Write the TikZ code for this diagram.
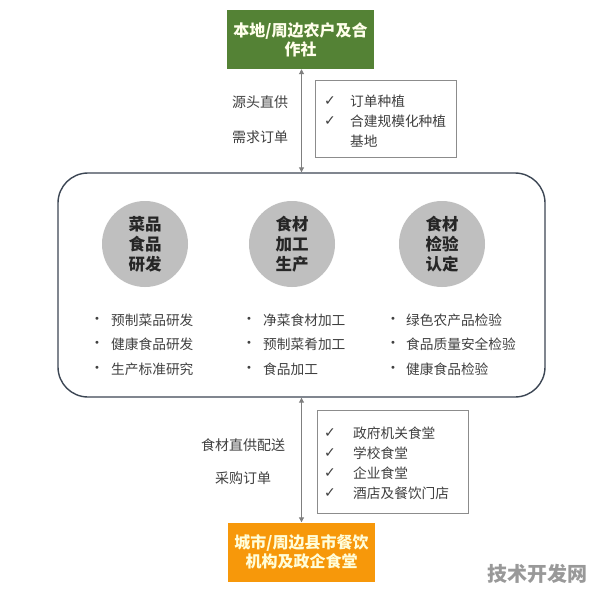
\documentclass[tikz,border=0pt]{standalone}
\usepackage{fontspec}
\setmainfont{Noto Sans CJK SC}
\newfontfamily\symf{DejaVu Sans}
\usetikzlibrary{arrows.meta}
\definecolor{mygreen}{HTML}{548235}
\definecolor{myorange}{HTML}{F7980A}
\definecolor{txt}{HTML}{404040}
\definecolor{circ}{HTML}{BFBFBF}
\definecolor{frame}{HTML}{3C4654}
\definecolor{arr}{HTML}{7F7F7F}
\begin{document}
\begin{tikzpicture}[x=1pt,y=-1pt,
  endbox/.style={minimum width=147pt,minimum height=59pt,inner sep=0pt,align=center,font=\fontsize{16}{19}\selectfont\bfseries},
  lab/.style={text=txt,font=\fontsize{14}{16}\selectfont,inner sep=0pt},
  item/.style={text=txt,font=\fontsize{13.7}{16}\selectfont,inner sep=0pt,anchor=west},
  chk/.style={text=txt,font=\symf\fontsize{14}{16}\selectfont,inner sep=0pt},
  bul/.style={text=txt,font=\symf\fontsize{10}{12}\selectfont,inner sep=0pt},
  listbox/.style={draw=black!45,line width=0.8pt,inner sep=0pt},
  circnode/.style={circle,fill=circ,minimum size=86pt,inner sep=0pt,align=center,text=black!85,font=\fontsize{16.5}{20}\selectfont\bfseries},
  conn/.style={draw=arr,line width=1pt,{Triangle[length=5pt,width=5pt]}-{Triangle[length=5pt,width=5pt]}}
]
\useasboundingbox (0,0) rectangle (596,591);
\fill[white] (0,0) rectangle (596,591);

% end boxes
\node[endbox,fill=mygreen,text=white!92!yellow] (top) at (300.5,39.5) {本地/周边农户及合\\作社};
\node[endbox,fill=myorange,text=white!85!yellow] (bot) at (301.5,552) {城市/周边县市餐饮\\机构及政企食堂};

% main frame
\node[draw=frame,line width=1.4pt,rounded corners=30pt,minimum width=487pt,minimum height=224pt,inner sep=0pt] (main) at (301.5,285) {};

% connectors
\draw[conn] (main.north |- top.south) -- (main.north);
\draw[conn] (main.south) -- (main.south |- bot.north);

% upper labels
\node[lab] (l1) at (260,102) {源头直供};
\node[lab] (l2) at (260,137) {需求订单};
\node[listbox,minimum width=141pt,minimum height=77pt] (b1) at (385.5,118.5) {};
\node[chk] (c11) at (330,101) {✓};
\node[item] (t11) at (350,101) {订单种植};
\node[chk] (c12) at (330,121) {✓};
\node[item] (t12) at (350,121) {合建规模化种植};
\node[item] (t13) at (350,141) {基地};

% circles
\node[circnode] (k1) at (145,244) {菜品\\食品\\研发};
\node[circnode] (k2) at (292,244) {食材\\加工\\生产};
\node[circnode] (k3) at (442,244) {食材\\检验\\认定};

% bullet lists
\foreach \y/\a/\b/\c [count=\i] in {320/预制菜品研发/净菜食材加工/绿色农产品检验,344/健康食品研发/预制菜肴加工/食品质量安全检验,369/生产标准研究/食品加工/健康食品检验}{
  \node[bul] (pa\i) at (97,\y) {•};
  \node[item] (qa\i) at (111,\y) {\a};
  \node[bul] (pb\i) at (249,\y) {•};
  \node[item] (qb\i) at (263,\y) {\b};
  \node[bul] (pc\i) at (393,\y) {•};
  \node[item] (qc\i) at (406,\y) {\c};
}

% lower labels
\node[lab] (l3) at (243,445) {食材直供配送};
\node[lab] (l4) at (243,478) {采购订单};
\node[listbox,minimum width=151pt,minimum height=103pt] (b2) at (392.5,461.5) {};
\foreach \y/\t [count=\i] in {433/政府机关食堂,453/学校食堂,473/企业食堂,493/酒店及餐饮门店}{
  \node[chk] (c2\i) at (330,\y) {✓};
  \node[item] (t2\i) at (353,\y) {\t};
}

% watermark
\node[text=black!40,font=\fontsize{20}{22}\selectfont\bfseries,inner sep=0pt] (wm) at (537,574) {技术开发网};
\end{tikzpicture}
\end{document}
